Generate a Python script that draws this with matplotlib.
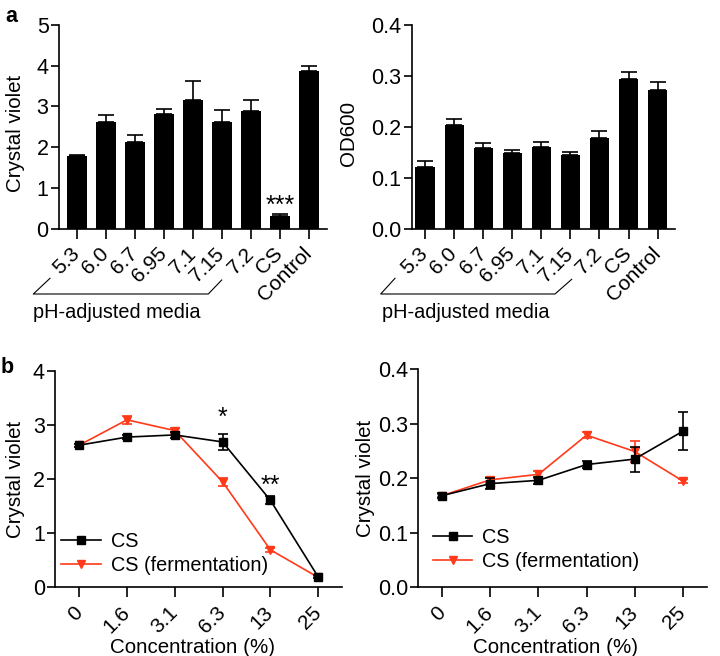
import matplotlib
matplotlib.use("Agg")
import matplotlib.pyplot as plt
from matplotlib.lines import Line2D
import numpy as np

plt.rcParams['font.family'] = ['Liberation Sans', 'DejaVu Sans']
plt.rcParams['axes.linewidth'] = 1.2

# ---- data ----
bar_labels = ["5.3", "6.0", "6.7", "6.95", "7.1", "7.15", "7.2", "CS", "Control"]
cv_vals = [1.78, 2.61, 2.12, 2.81, 3.15, 2.61, 2.90, 0.31, 3.86]
cv_err = [0.03, 0.17, 0.18, 0.12, 0.47, 0.31, 0.25, 0.06, 0.13]
od_vals = [0.122, 0.203, 0.158, 0.148, 0.160, 0.144, 0.178, 0.293, 0.273]
od_err = [0.011, 0.012, 0.011, 0.006, 0.011, 0.006, 0.014, 0.015, 0.015]

conc_labels = ["0", "1.6", "3.1", "6.3", "13", "25"]
b1_cs = [2.63, 2.78, 2.82, 2.69, 1.61, 0.19]
b1_cs_err = [0.03, 0.03, 0.05, 0.15, 0.08, 0.03]
b1_fe = [2.63, 3.10, 2.90, 1.95, 0.69, 0.18]
b1_fe_err = [0.03, 0.07, 0.04, 0.07, 0.04, 0.02]
b2_cs = [0.168, 0.190, 0.196, 0.225, 0.235, 0.286]
b2_cs_err = [0.004, 0.010, 0.006, 0.007, 0.023, 0.035]
b2_fe = [0.168, 0.197, 0.207, 0.279, 0.249, 0.195]
b2_fe_err = [0.003, 0.005, 0.006, 0.006, 0.020, 0.004]

RED = '#ff3a1a'
W, H = 720, 656
YTICK_FS = 15.5
XTICK_FS = 15
LAB_FS = 14.3

fig = plt.figure(figsize=(7.2, 6.56), dpi=100)

def ax_px(l, t, r, b):
    return fig.add_axes([l / W, 1 - b / H, (r - l) / W, (b - t) / H])

def fx(x):
    return x / W

def fy(y):
    return 1 - y / H

def style(ax):
    for s in ['top', 'right']:
        ax.spines[s].set_visible(False)
    ax.tick_params(axis='both', width=1.2, direction='out')
    ax.tick_params(axis='y', length=6, pad=1.5, labelsize=YTICK_FS)
    ax.tick_params(axis='x', length=7.5, labelsize=XTICK_FS)

# ---- panel a ----
axA1 = ax_px(59, 24.7, 327, 229)
axA2 = ax_px(411.7, 24.7, 675, 229)
xb = np.arange(len(bar_labels))
for ax, vals, err, ylim, ticks, fmt, lab in [
        (axA1, cv_vals, cv_err, 5, [0, 1, 2, 3, 4, 5], '{:.0f}', 'Crystal violet'),
        (axA2, od_vals, od_err, 0.4, [0, 0.1, 0.2, 0.3, 0.4], '{:.1f}', 'OD600')]:
    ax.bar(xb, vals, width=0.66, color='black',
           yerr=[np.zeros(len(vals)), err], capsize=6,
           error_kw=dict(elinewidth=1.2, capthick=1.2, ecolor='black'))
    ax.set_ylim(0, ylim)
    ax.set_yticks(ticks)
    ax.set_yticklabels([fmt.format(t) for t in ticks])
    ax.set_xticks(xb)
    ax.set_xticklabels(bar_labels, rotation=45, ha='right', va='center',
                       rotation_mode='anchor')
    style(ax)
    ax.tick_params(axis='x', pad=8)
    ax.set_ylabel(lab, fontsize=LAB_FS + 0.5)
axA1.set_xlim(-0.62, 8.62)
axA2.set_xlim(-0.46, 8.6)
axA1.yaxis.set_label_coords(-0.127, 0.47)
axA2.yaxis.set_label_coords(-0.204, 0.47)
axA1.text(7, 0.28, '***', ha='center', va='bottom', fontsize=18)

# brackets for pH-adjusted media
for (x0, x1, xr, yr, xl, tx) in [(33.3, 208.3, 221.7, 280, 50, 33),
                                  (380.7, 555, 571.7, 279.3, 395, 381.7)]:
    fig.add_artist(Line2D([fx(xl), fx(x0), fx(x1), fx(xr)],
                          [fy(278.3), fy(294), fy(294), fy(yr)],
                          color='black', lw=0.8))
    fig.text(fx(tx), fy(312.7), 'pH-adjusted media', fontsize=LAB_FS,
             ha='left', va='center')

# ---- panel b ----
axB1 = ax_px(55.3, 371.3, 342, 587)
axB2 = ax_px(418.3, 369.3, 706.7, 587)
xc = np.arange(len(conc_labels))
for ax, cs, cse, fe, fee, ylim, ticks, fmt in [
        (axB1, b1_cs, b1_cs_err, b1_fe, b1_fe_err, 4, [0, 1, 2, 3, 4], '{:.0f}'),
        (axB2, b2_cs, b2_cs_err, b2_fe, b2_fe_err, 0.4, [0, 0.1, 0.2, 0.3, 0.4], '{:.1f}')]:
    c1 = ax.errorbar(xc, cs, yerr=cse, color='black', marker='s', ms=5.5, lw=1.2,
                     capsize=3.5, elinewidth=1.2, capthick=1.2, zorder=3)
    c2 = ax.errorbar(xc, fe, yerr=fee, color=RED, marker='v', ms=5.5, lw=1.2,
                     capsize=3.5, elinewidth=1.2, capthick=1.2, zorder=2)
    ax.set_ylim(0, ylim)
    ax.set_yticks(ticks)
    ax.set_yticklabels([fmt.format(t) for t in ticks])
    ax.set_xticks(xc)
    ax.set_xticklabels(conc_labels, rotation=45, ha='right', va='center',
                       rotation_mode='anchor')
    ax.set_xlim(-0.5, 5.5)
    style(ax)
    ax.tick_params(axis='x', pad=9)
    ax.set_ylabel('Crystal violet', fontsize=LAB_FS + 0.5)
    ax.set_xlabel('Concentration (%)', fontsize=LAB_FS + 0.5)
    ax.legend([c1[0], c2[0]], ['CS', 'CS (fermentation)'],
              loc='lower left', frameon=False, fontsize=LAB_FS,
              handlelength=2.0, handletextpad=0.5, labelspacing=0.25,
              borderpad=0, borderaxespad=0)
axB1.legend_.set_bbox_to_anchor((0.02, 0.055), transform=axB1.transAxes)
axB2.legend_.set_bbox_to_anchor((0.05, 0.075), transform=axB2.transAxes)
axB1.yaxis.set_label_coords(-0.106, 0.5)
axB2.yaxis.set_label_coords(-0.150, 0.5)
axB1.xaxis.set_label_coords(0.478, -0.235)
axB2.xaxis.set_label_coords(0.477, -0.235)
axB1.text(3, 2.92, '*', ha='center', va='bottom', fontsize=18)
axB1.text(4, 1.65, '**', ha='center', va='bottom', fontsize=18)

fig.text(fx(5), fy(22), 'a', fontsize=15.5, fontweight='bold', ha='left', va='baseline')
fig.text(fx(1), fy(373), 'b', fontsize=15.5, fontweight='bold', ha='left', va='baseline')

fig.savefig('out.png', dpi=100)
